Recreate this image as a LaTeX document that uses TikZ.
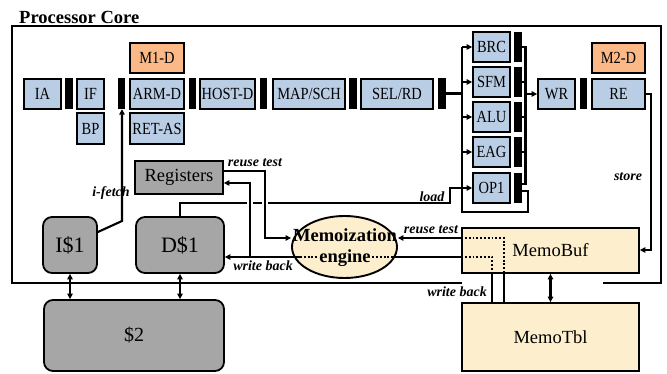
\documentclass[tikz,border=0pt]{standalone}
\usepackage{fontspec}
\setmainfont{Liberation Serif}
\newfontfamily\narrowfont{Liberation Serif}[FakeStretch=0.85]
\usetikzlibrary{shapes.geometric,arrows.meta,calc}

\definecolor{pipeblue}{RGB}{185,205,229}
\definecolor{decorange}{RGB}{250,185,135}
\definecolor{cachegray}{RGB}{166,166,166}
\definecolor{memocream}{RGB}{253,239,206}

\tikzset{
  pipe/.style={draw=black, line width=1.8pt, fill=pipeblue, inner sep=0pt,
    font=\narrowfont\fontsize{17}{17}\selectfont},
  mdec/.style={pipe, fill=decorange},
  latch/.style={fill=black, draw=none, inner sep=0pt},
  gbox/.style={draw=black, line width=1.8pt, fill=cachegray, inner sep=0pt,
    font=\fontsize{18.5}{19}\selectfont},
  gcache/.style={gbox, rounded corners=9pt, font=\fontsize{22}{22}\selectfont},
  memo/.style={draw=black, line width=1.8pt, fill=memocream, inner sep=0pt,
    font=\fontsize{18.5}{18.5}\selectfont},
  engtxt/.style={font=\bfseries\fontsize{18.5}{18.5}\selectfont, inner sep=0.5pt},
  conn/.style={line width=2.1pt, draw=black},
  arr/.style={conn, -{Triangle[length=5.5pt,width=5.5pt]}},
  darr/.style={conn, {Triangle[length=5.5pt,width=5.5pt]}-{Triangle[length=5.5pt,width=5.5pt]}},
  dotline/.style={line width=1.9pt, dash pattern=on 1.9pt off 1.9pt},
  lbl/.style={font=\bfseries\itshape\fontsize{14}{14}\selectfont, inner sep=0pt},
}

% block given by its corners (x1,y1) and (x2,y2)
\newcommand\blk[7]{\node[#6, minimum width={(#4)-(#2)}, minimum height={(#5)-(#3)}]
  (#1) at ({((#2)+(#4))/2},{((#3)+(#5))/2}) {#7};}

\begin{document}
\begin{tikzpicture}[x=1pt, y=-1pt]
\useasboundingbox (0,0) rectangle (667,374);

% processor core frame (open where the memo path leaves it)
\draw[line width=1.5pt] (462,283) -- (12,283) -- (12,26) -- (661,26) -- (661,283) -- (603,283);
\node[anchor=base west, inner sep=0pt, font=\bfseries\fontsize{18.5}{19}\selectfont] (title) at (19,24) {Processor Core};

% pipeline
\blk{ia}{24}{79}{61}{109}{pipe}{IA}
\blk{b1}{65}{78}{73}{109}{latch}{}
\blk{if}{77}{79}{104}{109}{pipe}{IF}
\blk{bp}{77}{113}{104}{144}{pipe}{BP}
\blk{b2}{118}{78}{125}{109}{latch}{}
\blk{arm}{130}{79}{184}{109}{pipe}{ARM-D}
\blk{m1}{130}{43}{184}{73}{mdec}{M1-D}
\blk{ret}{130}{113}{184}{144}{pipe}{RET-AS}
\blk{b3}{189}{78}{196}{109}{latch}{}
\blk{host}{200}{79}{255}{109}{pipe}{HOST-D}
\blk{b4}{260}{78}{267}{109}{latch}{}
\blk{map}{273}{79}{345}{109}{pipe}{MAP/SCH}
\blk{b5}{349}{78}{357}{109}{latch}{}
\blk{sel}{361}{79}{433}{109}{pipe}{SEL/RD}
\blk{b6}{438}{78}{446}{109}{latch}{}

% execution units
\blk{brc}{473}{32}{510}{62}{pipe}{BRC}
\blk{ub1}{514}{32}{522}{62}{latch}{}
\blk{sfm}{473}{67}{510}{97}{pipe}{SFM}
\blk{ub2}{514}{67}{522}{97}{latch}{}
\blk{alu}{473}{102}{510}{132}{pipe}{ALU}
\blk{ub3}{514}{102}{522}{132}{latch}{}
\blk{eag}{473}{137}{510}{167}{pipe}{EAG}
\blk{ub4}{514}{137}{522}{167}{latch}{}
\blk{op1}{473}{173}{510}{203}{pipe}{OP1}
\blk{ub5}{514}{173}{522}{203}{latch}{}

\blk{wr}{538}{79}{575}{109}{pipe}{WR}
\blk{b7}{580}{78}{587}{109}{latch}{}
\blk{re}{592}{79}{645}{109}{pipe}{RE}
\blk{m2}{592}{43}{645}{73}{mdec}{M2-D}

% storage
\blk{regs}{135}{161}{223}{194}{gbox}{Registers}
\blk{i1}{43}{217}{97}{273}{gcache}{I\$1}
\blk{d1}{136}{217}{224}{273}{gcache}{D\$1}
\blk{l2}{44}{300}{224}{371}{gcache, font=\fontsize{20}{20}\selectfont}{\$2}
\blk{mbuf}{462}{228}{639}{273}{memo}{MemoBuf}
\blk{mtbl}{462}{303}{639}{371}{memo}{MemoTbl}

% memoization engine
\node[ellipse, draw=black, line width=1.9pt, fill=memocream, minimum width=105,
  minimum height=62, inner sep=0pt] (eng) at (344.5,247) {};
\draw[dotline] (300,257) -- (392,257);
\node[engtxt] (engA) at (345,235) {Memoization};
\node[engtxt, fill=memocream] (engB) at (345,258) {engine};

% dispatch bus and result collector
\coordinate (busT) at (462,47);
\coordinate (busB) at (462,212);
\coordinate (loopS) at (528,191);
\coordinate (loopR) at (528,212);
\coordinate (colT) at (525.5,47);
\coordinate (colB) at (525.5,184);
\draw[conn] (b6.east) -- (b6.east -| busT);
\draw[conn] (ub5.east |- loopS) -- (loopS) -- (loopR) -- (busB) -- (busT);
\draw[arr] (brc.west -| busT) -- (brc.west);
\draw[arr] (sfm.west -| busT) -- (sfm.west);
\draw[arr] (alu.west -| busT) -- (alu.west);
\draw[arr] (eag.west -| busT) -- (eag.west);
\draw[conn] (ub1.east) -- (ub1.east -| colT) -- (colB) -- (colB -| ub5.east);
\draw[conn] (ub2.east) -- (ub2.east -| colT);
\draw[conn] (ub3.east) -- (ub3.east -| colT);
\draw[conn] (ub4.east) -- (ub4.east -| colT);
\draw[arr] (wr.west -| colT) -- (wr.west);

% store path
\coordinate (stB) at (651,250);
\draw[arr] (re.east) -- (re.east -| stB) -- (stB) -- (stB -| mbuf.east);
\node[lbl] (lstore) at (628,177) {store};

% instruction fetch
\coordinate (if1) at (122,221);
\draw[arr] ([yshift=13pt]i1.east) -- (if1) -- (if1 |- b2.south);
\node[lbl] (lifetch) at (111,193) {i-fetch};

% load path
\coordinate (ld1) at (180,203);
\coordinate (ld2) at (450,203);
\draw[arr] (d1.north -| ld1) -- (ld1) -- (ld2) -- (ld2 |- op1.west) -- (op1.west);
\node[lbl] (lload) at (432,197) {load};
\draw[white, line width=6pt] (250,199) -- (250,207);
\draw[white, line width=6pt] (265,199) -- (265,207);

% register reuse test
\coordinate (rt1) at (265,171);
\coordinate (rt2) at (265,238);
\draw[arr] (rt1 -| regs.east) -- (rt1) -- (rt2) -- (rt2 -| eng.west);
\node[lbl] (lrt1) at (255,163) {reuse test};

% write back to cache and registers
\coordinate (wb1) at (300,257);
\coordinate (wb2) at (250,257);
\coordinate (wb3) at (250,183);
\coordinate (wb0) at (392,257);
\draw[arr] (wb1) -- (wb1 -| d1.east);
\draw[arr] (wb2) -- (wb3) -- (wb3 -| regs.east);
\draw[conn] (wb0) -- (wb0 -| mbuf.west);
\node[lbl] (lwb1) at (263,266) {write back};

% memo buffer reuse test
\coordinate (rr) at (462,238);
\draw[arr] (rr -| mbuf.west) -- (rr -| eng.east);
\node[lbl] (lrt2) at (431,230) {reuse test};

% paths through the memo buffer to the table
\coordinate (mb1) at (504,238);
\coordinate (mb2) at (492,257);
\draw[dotline] (rr -| mbuf.west) -- (mb1) -- (mb1 |- mbuf.south);
\draw[conn, line width=2.4pt] (mb1 |- mbuf.south) -- (mb1 |- mtbl.north);
\draw[conn, line width=1.5pt] (mb2 |- mbuf.south) -- (mb2 |- mtbl.north);
\draw[dotline] (mb2 -| mbuf.west) -- (mb2) -- (mb2 |- mbuf.south);
\node[lbl] (lwb2) at (457,292) {write back};

% cache and table links
\draw[darr] (i1.south) -- (i1.south |- l2.north);
\draw[darr] (d1.south) -- (d1.south |- l2.north);
\draw[darr] (mbuf.south) -- (mtbl.north);
\end{tikzpicture}
\end{document}
